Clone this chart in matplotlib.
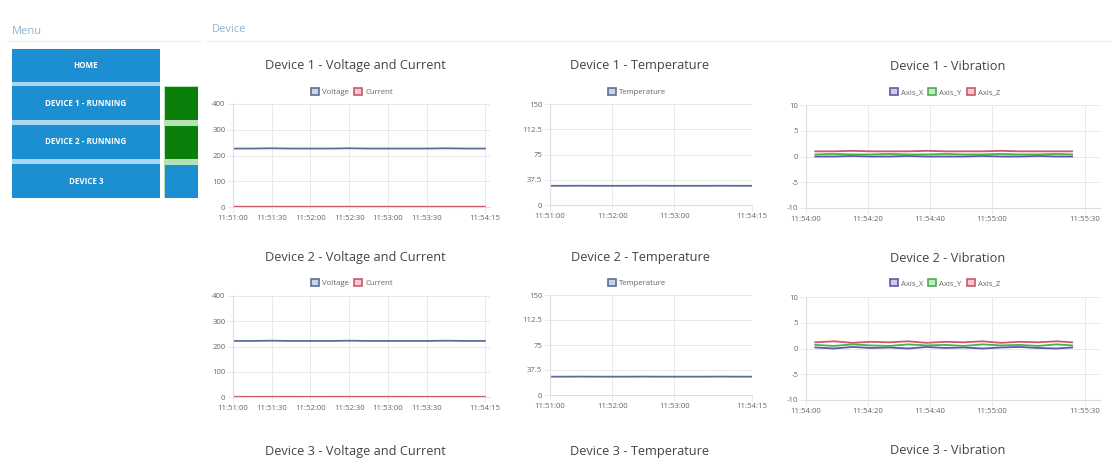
import matplotlib
matplotlib.use("Agg")
import matplotlib.pyplot as plt
from matplotlib.patches import Rectangle

plt.rcParams['font.family'] = ['Open Sans', 'DejaVu Sans']

W, H = 1112, 466

# ---------------- data ----------------
elec_times = [0, 15, 30, 45, 60, 75, 90, 105, 120, 135, 150, 165, 180, 195]
dev1_voltage = [227, 227, 228, 227, 227, 227, 228, 227, 227, 227, 227, 228, 227, 227]
dev1_current = [1.2, 1.1, 1.2, 1.2, 1.1, 1.2, 1.2, 1.1, 1.2, 1.2, 1.1, 1.2, 1.2, 1.2]
dev2_voltage = [222, 222, 223, 222, 222, 222, 223, 222, 222, 222, 222, 223, 222, 222]
dev2_current = [0.9, 0.8, 0.9, 0.9, 0.8, 0.9, 0.9, 0.8, 0.9, 0.9, 0.8, 0.9, 0.9, 0.9]
dev1_temp = [28.5, 28.5, 28.6, 28.5, 28.5, 28.5, 28.6, 28.5, 28.5, 28.5, 28.5, 28.6, 28.5, 28.5]
dev2_temp = [27.5, 27.5, 27.6, 27.5, 27.5, 27.5, 27.6, 27.5, 27.5, 27.5, 27.5, 27.6, 27.5, 27.5]

vib_times = [3, 9, 15, 21, 27, 33, 39, 45, 51, 57, 63, 69, 75, 81, 86]
dev1_axis_x = [0.0, 0.0, 0.1, 0.0, 0.0, 0.1, 0.0, 0.0, 0.0, 0.1, 0.0, 0.0, 0.1, 0.0, 0.0]
dev1_axis_y = [0.4, 0.5, 0.4, 0.4, 0.5, 0.4, 0.4, 0.5, 0.4, 0.4, 0.5, 0.4, 0.4, 0.5, 0.4]
dev1_axis_z = [1.0, 1.0, 1.1, 1.0, 1.0, 1.0, 1.1, 1.0, 1.0, 1.0, 1.1, 1.0, 1.0, 1.0, 1.0]
dev2_axis_x = [0.2, 0.0, 0.3, 0.1, 0.2, 0.0, 0.3, 0.1, 0.2, 0.0, 0.2, 0.3, 0.1, 0.0, 0.2]
dev2_axis_y = [0.7, 0.5, 0.8, 0.6, 0.5, 0.8, 0.6, 0.7, 0.5, 0.8, 0.6, 0.7, 0.5, 0.8, 0.6]
dev2_axis_z = [1.2, 1.4, 1.1, 1.3, 1.2, 1.4, 1.1, 1.3, 1.2, 1.4, 1.1, 1.3, 1.2, 1.4, 1.2]

elec_ticks = [0, 30, 60, 90, 120, 150, 195]
temp_ticks = [0, 60, 120, 195]
vib_ticks = [0, 20, 40, 60, 90]
elec_start = (11, 51, 0)
vib_start = (11, 54, 0)

volt_ticks = [0, 100, 200, 300, 400]
temp_yticks = [0, 37.5, 75, 112.5, 150]
vib_yticks = [-10, -5, 0, 5, 10]

menu_items = ["HOME", "DEVICE 1 - RUNNING", "DEVICE 2 - RUNNING", "DEVICE 3"]
menu_status = [None, "#0a7f0a", "#0a7f0a", "#1b8fd2"]

# ---------------- styles ----------------
C_VOLT = "#5a6f98"
C_CURR = "#d0566a"
C_TEMP = "#5a6f98"
C_AX = "#5a5aa8"
C_AY = "#4caf50"
C_AZ = "#d0566a"
GRID = "#e9e9e9"
TXT = "#666666"
BTN = "#1b8fd2"
TITLE_C = "#444444"
TITLE_FS = 9.2

fig = plt.figure(figsize=(W / 100, H / 100), dpi=100)
fig.patch.set_facecolor("white")

# page overlay axes in pixel coordinates
bg = fig.add_axes([0, 0, 1, 1])
bg.set_xlim(0, W)
bg.set_ylim(H, 0)
bg.axis("off")
bg.text(12, 31, "Menu", fontsize=8, color="#8fb4cc", va="center")
bg.text(212, 29, "Device", fontsize=8, color="#8fb4cc", va="center")
bg.plot([8, 200], [41, 41], color="#eeeeee", lw=0.8)
bg.plot([205, 1112], [41, 41], color="#eeeeee", lw=0.8)

bg.add_patch(Rectangle((12, 49), 148, 149, color="#a9d6f2", lw=0))
bg.add_patch(Rectangle((164, 86), 34, 112, color="#b6e0b6", lw=0))
btn_rows = [(49, 82), (86, 120), (125, 159), (164, 198)]
for (y0, y1), label, st in zip(btn_rows, menu_items, menu_status):
    bg.add_patch(Rectangle((12, y0), 148, y1 - y0, color=BTN, lw=0))
    bg.text(86, (y0 + y1) / 2, label, fontsize=5.8, color="white",
            ha="center", va="center", fontweight="bold")
    if st is not None:
        bg.add_patch(Rectangle((165, y0 + 1), 33, y1 - y0 - 1, color=st, lw=0))


def rect(x0, y0, x1, y1):
    return [x0 / W, 1 - y1 / H, (x1 - x0) / W, (y1 - y0) / H]


def fmt_time(start, secs):
    h, m, s = start
    tot = h * 3600 + m * 60 + s + secs
    return "%d:%02d:%02d" % (tot // 3600, (tot % 3600) // 60, tot % 60)


def style(ax, yticks, ylabels, xticks, start, xlim):
    ax.set_xlim(*xlim)
    ax.set_ylim(yticks[0], yticks[-1])
    ax.set_yticks(yticks)
    ax.set_yticklabels(ylabels)
    ax.set_xticks(xticks)
    ax.set_xticklabels([fmt_time(start, t) for t in xticks])
    ax.grid(True, color=GRID, lw=0.7)
    ax.set_axisbelow(True)
    for sp in ax.spines.values():
        sp.set_visible(False)
    ax.spines["left"].set_visible(True)
    ax.spines["left"].set_color("#dddddd")
    ax.spines["bottom"].set_visible(True)
    ax.spines["bottom"].set_color("#dddddd")
    ax.tick_params(labelsize=5.6, colors=TXT, length=4, width=0.6,
                   color=GRID, pad=1.5)


def legend(ax, handles, labels, cx, cy):
    ax.legend(handles, labels, loc="center", bbox_to_anchor=(cx / W, 1 - cy / H),
              bbox_transform=fig.transFigure, ncol=len(labels), frameon=False,
              fontsize=5.6, handlelength=1.0, handleheight=1.0,
              handletextpad=0.4, columnspacing=0.7, labelcolor=TXT)


def box2(c):
    return Rectangle((0, 0), 1, 1, facecolor=(*matplotlib.colors.to_rgb(c), 0.3),
                     edgecolor=c, lw=1.2)


elec_data = [(dev1_voltage, dev1_current), (dev2_voltage, dev2_current)]
temp_data = [dev1_temp, dev2_temp]
vib_data = [(dev1_axis_x, dev1_axis_y, dev1_axis_z),
            (dev2_axis_x, dev2_axis_y, dev2_axis_z)]

rows = [
    dict(t=66, lg=92, e=(104, 207), tp=(104, 205), v=(105, 208)),
    dict(t=258, lg=283, e=(296, 397), tp=(295, 395), v=(297, 400)),
]
LW = 1.3

for i, r in enumerate(rows):
    dev = i + 1
    # voltage / current
    ax = fig.add_axes(rect(233, r["e"][0], 490, r["e"][1]))
    v, c = elec_data[i]
    ax.plot(elec_times, v, color=C_VOLT, lw=LW)
    ax.plot(elec_times, c, color=C_CURR, lw=LW)
    style(ax, volt_ticks, [str(t) for t in volt_ticks], elec_ticks, elec_start, (0, 199))
    legend(ax, [box2(C_VOLT), box2(C_CURR)], ["Voltage", "Current"], 352, r["lg"])
    fig.text(355 / W, 1 - r["t"] / H, "Device %d - Voltage and Current" % dev,
             ha="center", va="center", fontsize=TITLE_FS, color=TITLE_C)

    # temperature
    ax = fig.add_axes(rect(550, r["tp"][0], 752, r["tp"][1]))
    ax.plot(elec_times, temp_data[i], color=C_TEMP, lw=LW)
    style(ax, temp_yticks, ["0", "37.5", "75", "112.5", "150"], temp_ticks,
          elec_start, (0, 195))
    legend(ax, [box2(C_TEMP)], ["Temperature"], 637, r["lg"])
    fig.text(640 / W, 1 - r["t"] / H, "Device %d - Temperature" % dev,
             ha="center", va="center", fontsize=TITLE_FS, color=TITLE_C)

    # vibration
    ax = fig.add_axes(rect(806, r["v"][0], 1100, r["v"][1]))
    ax_, ay_, az_ = vib_data[i]
    ax.plot(vib_times, ax_, color=C_AX, lw=LW)
    ax.plot(vib_times, ay_, color=C_AY, lw=LW)
    ax.plot(vib_times, az_, color=C_AZ, lw=LW)
    style(ax, vib_yticks, [str(t) for t in vib_yticks], vib_ticks, vib_start, (0, 95))
    legend(ax, [box2(C_AX), box2(C_AY), box2(C_AZ)], ["Axis_X", "Axis_Y", "Axis_Z"],
           945, r["lg"])
    fig.text(948 / W, 1 - r["t"] / H, "Device %d - Vibration" % dev,
             ha="center", va="center", fontsize=TITLE_FS, color=TITLE_C)

# third row titles (charts cut off)
for cx, name in [(355, "Voltage and Current"), (640, "Temperature"), (948, "Vibration")]:
    fig.text(cx / W, 1 - 451 / H, "Device 3 - %s" % name, ha="center", va="center",
             fontsize=TITLE_FS, color=TITLE_C)

fig.savefig("out.png", dpi=100, facecolor="white")
